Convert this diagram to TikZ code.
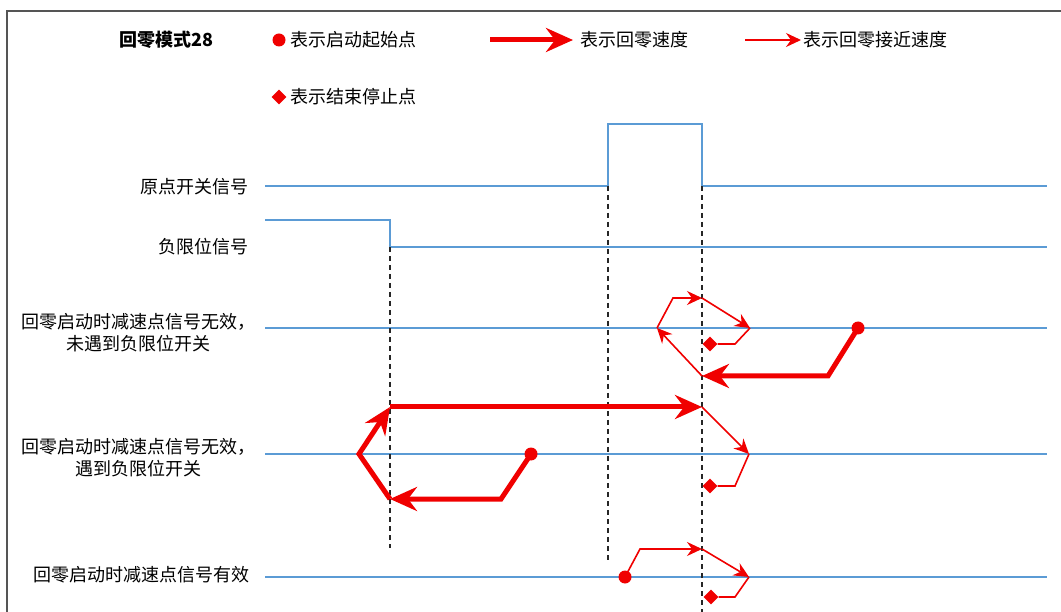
\documentclass[tikz,border=0pt]{standalone}
\usepackage{fontspec}
\setmainfont{Noto Sans CJK SC}
\usetikzlibrary{arrows.meta,shapes.geometric}
\definecolor{sig}{HTML}{5B9BD5}
\definecolor{rd}{HTML}{F00000}
\definecolor{frm}{HTML}{555555}
\begin{document}
\begin{tikzpicture}[x=1pt,y=-1pt,
  sigline/.style={draw=sig,line width=1.6pt},
  dashln/.style={draw=black!85,line width=1.8pt,dash pattern=on 5pt off 4pt},
  fast/.style={draw=rd,line width=5pt,line join=miter,-{Stealth[length=27pt,width=24pt,inset=9pt]}},
  slow/.style={draw=rd,line width=1.6pt,-{Stealth[length=15pt,width=14pt,inset=5pt]}},
  plainred/.style={draw=rd,line width=1.6pt},
  startdot/.style={circle,fill=rd,inner sep=0pt,minimum size=13pt},
  stopdia/.style={diamond,fill=rd,inner sep=0pt,minimum size=15pt},
  lbl/.style={font=\fontsize{18}{22}\selectfont,inner sep=0pt},
]
\useasboundingbox[fill=white] (0,0) rectangle (1061,612);
% frame
\draw[frm,line width=1.5pt] (7,612) -- (7,11) -- (1061,11);

% legend
\node[lbl] (title) at (166,40) {\bfseries 回零模式28};
\node[startdot] (ldot) at (279,40) {};
\node[lbl,anchor=west] (lt1) at (290,40) {表示启动起始点};
\coordinate (la1) at (490,40); \coordinate (la2) at (573,40);
\draw[fast] (la1) -- (la2);
\node[lbl,anchor=west] (lt2) at (580,40) {表示回零速度};
\coordinate (lb1) at (745,40); \coordinate (lb2) at (801,40);
\draw[slow] (lb1) -- (lb2);
\node[lbl,anchor=west] (lt3) at (803,40) {表示回零接近速度};
\node[stopdia] (ldia) at (279,97) {};
\node[lbl,anchor=west] (lt4) at (290,97) {表示结束停止点};

% labels
\node[lbl,anchor=east] (s1) at (249,187) {原点开关信号};
\node[lbl,anchor=east] (s2) at (249,247) {负限位信号};
\node[lbl,anchor=east,align=center] (c1) at (256,333) {回零启动时减速点信号无效，\\未遇到负限位开关};
\node[lbl,anchor=east,align=center] (c2) at (256,458) {回零启动时减速点信号无效，\\遇到负限位开关};
\node[lbl,anchor=east] (c3) at (250,575) {回零启动时减速点信号有效};

% signal lines
\draw[sigline] (265,186) -- (608,186) -- (608,124) -- (702,124) -- (702,186) -- (1047,186);
\draw[sigline] (265,220) -- (390,220) -- (390,247) -- (1047,247);
\draw[sigline] (265,328) -- (1047,328);
\draw[sigline] (265,454) -- (1047,454);
\draw[sigline] (265,577) -- (1047,577);

% dashed guides
\coordinate (g1t) at (390,247); \coordinate (g1b) at (390,548);
\coordinate (g2t) at (608,186); \coordinate (g2b) at (608,560);
\coordinate (g3t) at (702,186); \coordinate (g3b) at (702,612);
\draw[dashln] (g1t) -- (g1b);
\draw[dashln] (g2t) -- (g2b);
\draw[dashln] (g3t) -- (g3b);

% scenario 1
\node[startdot] (A1) at (858,328) {};
\node[stopdia] (D1) at (710,344) {};
\coordinate (p1a) at (828,376);
\coordinate (p1b) at (702,376);
\coordinate (p1c) at (657,328);
\coordinate (p1d) at (673,298);
\coordinate (p1e) at (702,298);
\coordinate (p1f) at (750,328);
\coordinate (p1g) at (735,344);
\draw[fast] (A1.center) -- (p1a) -- (p1b);
\draw[slow] (p1b) -- (p1c);
\draw[slow] (p1c) -- (p1d) -- (p1e);
\draw[slow] (p1e) -- (p1f);
\draw[plainred] (p1f) -- (p1g) -- (D1);

% scenario 2
\node[startdot] (A2) at (531,454) {};
\node[stopdia] (D2) at (710,486) {};
\coordinate (p2a) at (501,499);
\coordinate (p2b) at (390,499);
\coordinate (p2c) at (359,454);
\coordinate (p2d) at (390,407);
\coordinate (p2e) at (702,407);
\coordinate (p2f) at (749,454);
\coordinate (p2g) at (735,486);
\draw[fast] (A2.center) -- (p2a) -- (p2b);
\draw[fast] (p2b) -- (p2c) -- (p2d);
\draw[fast] (p2d) -- (p2e);
\draw[slow] (p2e) -- (p2f);
\draw[plainred] (p2f) -- (p2g) -- (D2);

% scenario 3
\node[startdot] (A3) at (625,577) {};
\node[stopdia] (D3) at (711,597) {};
\coordinate (p3a) at (640,549);
\coordinate (p3b) at (702,549);
\coordinate (p3c) at (749,577);
\coordinate (p3d) at (735,597);
\draw[slow] (A3.center) -- (p3a) -- (p3b);
\draw[slow] (p3b) -- (p3c);
\draw[plainred] (p3c) -- (p3d) -- (D3);
\end{tikzpicture}
\end{document}
